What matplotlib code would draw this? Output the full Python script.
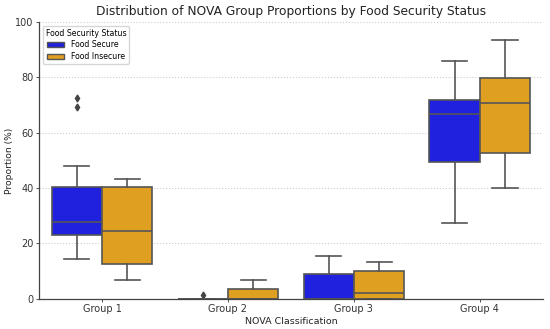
import matplotlib
matplotlib.use("Agg")
import matplotlib.pyplot as plt
from matplotlib.patches import Patch

# Values (percent)
groups = ["Group 1", "Group 2", "Group 3", "Group 4"]
status = ["Food Secure", "Food Insecure"]

secure_whislo = [14.3, 0.0, 0.0, 27.2]
secure_q1 = [22.9, 0.0, 0.0, 49.5]
secure_med = [27.9, 0.0, 0.0, 66.7]
secure_q3 = [40.4, 0.0, 8.9, 71.8]
secure_whishi = [47.8, 0.0, 15.6, 85.8]
secure_fliers = [[72.7, 69.3], [1.2], [], []]

insecure_whislo = [6.6, 0.0, 0.0, 40.1]
insecure_q1 = [12.6, 0.0, 0.0, 52.5]
insecure_med = [24.3, 0.0, 2.0, 70.6]
insecure_q3 = [40.4, 3.4, 10.0, 79.9]
insecure_whishi = [43.1, 6.6, 13.4, 93.4]
insecure_fliers = [[], [], [], []]

colors = ["#2020df", "#df9f20"]
line_color = "#555555"


def make_stats(lo, q1, med, q3, hi, fl):
    return [dict(whislo=lo[i], q1=q1[i], med=med[i], q3=q3[i], whishi=hi[i], fliers=fl[i])
            for i in range(len(groups))]


all_stats = [
    make_stats(secure_whislo, secure_q1, secure_med, secure_q3, secure_whishi, secure_fliers),
    make_stats(insecure_whislo, insecure_q1, insecure_med, insecure_q3, insecure_whishi, insecure_fliers),
]

fig, ax = plt.subplots(figsize=(5.5, 3.29), dpi=100)
fig.subplots_adjust(left=0.071, right=0.987, top=0.933, bottom=0.092)

offsets = [-0.2, 0.2]
for k in range(2):
    pos = [i + offsets[k] for i in range(len(groups))]
    ax.bxp(all_stats[k], positions=pos, widths=0.4, patch_artist=True, manage_ticks=False,
           boxprops=dict(facecolor=colors[k], edgecolor=line_color, linewidth=1.2),
           medianprops=dict(color=line_color, linewidth=1.2),
           whiskerprops=dict(color=line_color, linewidth=1.2),
           capprops=dict(color=line_color, linewidth=1.2),
           flierprops=dict(marker="d", markerfacecolor="#444444", markeredgecolor="#444444",
                           markersize=3.5))

ax.set_xlim(-0.5, 3.5)
ax.set_ylim(0, 100)
ax.set_xticks(range(len(groups)))
ax.set_xticklabels(groups)
ax.set_yticks([0, 20, 40, 60, 80, 100])
ax.tick_params(labelsize=7, colors="#333333", length=2, width=0.6, pad=2)
ax.yaxis.grid(True, linestyle=":", color="#cccccc", linewidth=0.8)
ax.set_axisbelow(True)
for s in ["top", "right"]:
    ax.spines[s].set_visible(False)
for s in ["left", "bottom"]:
    ax.spines[s].set_color("#444444")
    ax.spines[s].set_linewidth(0.9)

ax.set_title("Distribution of NOVA Group Proportions by Food Security Status", fontsize=8.8,
             color="#222222", pad=5)
ax.set_xlabel("NOVA Classification", fontsize=6.8, labelpad=2, color="#222222")
ax.set_ylabel("Proportion (%)", fontsize=6.6, labelpad=1, color="#222222")

handles = [Patch(facecolor=colors[k], edgecolor=line_color, label=status[k]) for k in range(2)]
ax.legend(handles=handles, title="Food Security Status", loc="upper left", fontsize=5.6,
          title_fontsize=5.6, frameon=True, borderaxespad=0.5, labelspacing=0.35,
          borderpad=0.35, handlelength=2.2, handleheight=0.6)

fig.savefig("out.png")
